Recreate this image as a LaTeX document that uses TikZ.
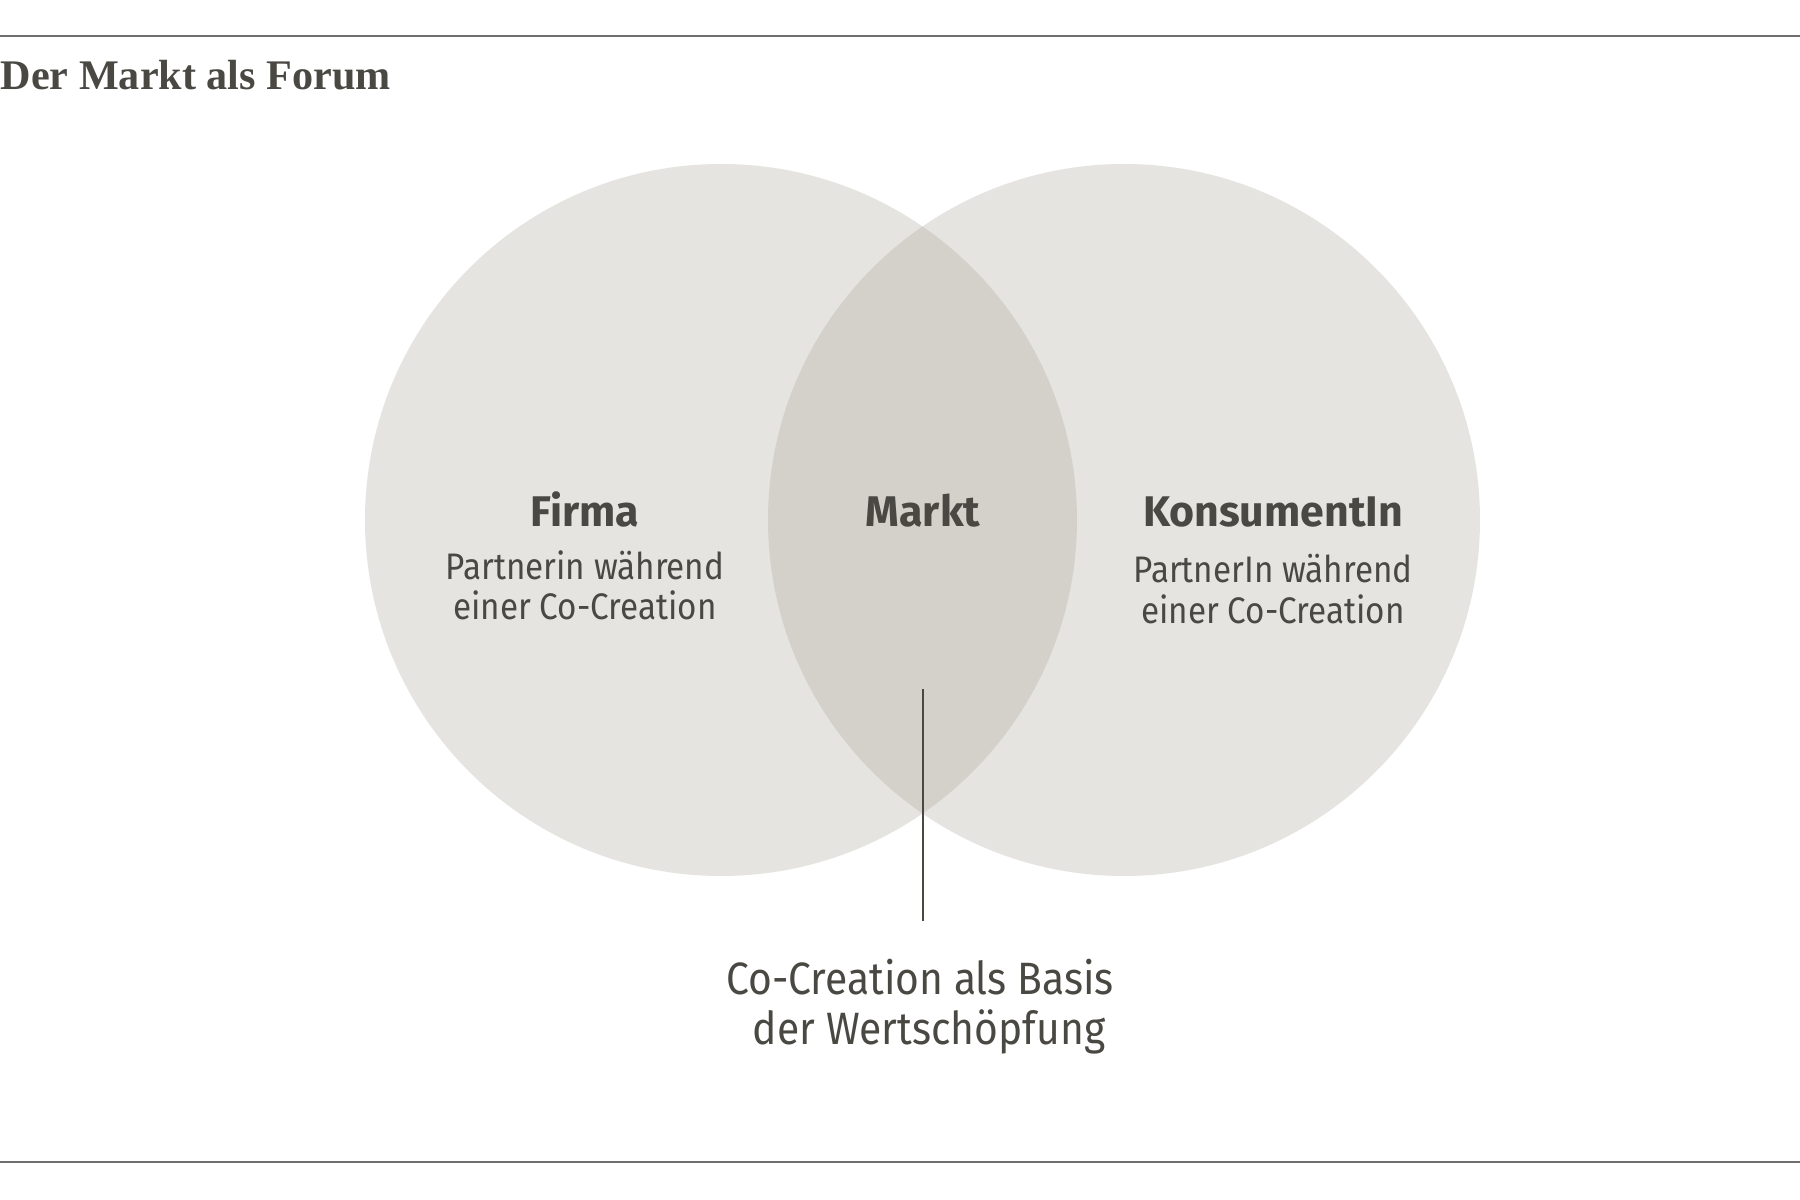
\documentclass[tikz,border=0pt]{standalone}
\usepackage{fontspec}
\setmainfont{Liberation Serif}
\newfontfamily\headfont{Fira Sans}
\newfontfamily\bodyfont[FakeStretch=0.9]{Fira Sans}
\definecolor{circlegray}{HTML}{E5E4E0}
\definecolor{overlapgray}{HTML}{D4D1CB}
\definecolor{textgray}{HTML}{4A4842}
\definecolor{rulegray}{HTML}{6E6E6E}
\tikzset{
	head/.style={anchor=base,text=textgray,font=\headfont\bfseries\fontsize{12.2}{14}\selectfont},
	body/.style={anchor=base,text=textgray,align=center,font=\bodyfont\fontsize{10.5}{11.6}\selectfont},
}
\begin{document}
\begin{tikzpicture}
		\useasboundingbox (0,0) rectangle (18,12);
		\fill[color=white] (0,0) rectangle (18,12);
		\draw[color=rulegray,line width=0.6pt] (0,11.64) -- (18,11.64);
		\draw[color=rulegray,line width=0.6pt] (0,0.38) -- (18,0.38);
		\node[anchor=base west,inner sep=0pt,text=textgray,font=\bfseries\fontsize{12}{14}\selectfont] (title) at (0,11.1) {Der Markt als Forum};
		\fill[color=circlegray] (7.21,6.8) circle[radius=3.56];
		\fill[color=circlegray] (11.24,6.8) circle[radius=3.56];
		\begin{scope}
			\clip (7.21,6.8) circle[radius=3.56];
			\fill[color=overlapgray] (11.24,6.8) circle[radius=3.56];
		\end{scope}
		\node[head] (firma) at (5.85,6.73) {Firma};
		\node[head] (markt) at (9.23,6.73) {Markt};
		\node[head] (konsument) at (12.73,6.73) {KonsumentIn};
		% anchor=base sits on the last line
		\node[body] (firmatext) at (5.85,5.8) {Partnerin während\\einer Co-Creation};
		\node[body] (konstext) at (12.73,5.77) {PartnerIn während\\einer Co-Creation};
		\node[body,font=\bodyfont\fontsize{12.9}{14.4}\selectfont] (basis) at (9.2,1.55) {Co-Creation als Basis\\\hspace*{0.4em}der Wertschöpfung};
		\coordinate (linetop) at (9.23,5.11);
		\draw[color=textgray,line width=0.45pt,shorten >=2.6mm] (linetop) -- (linetop |- basis.north);
	\end{tikzpicture}
\end{document}
